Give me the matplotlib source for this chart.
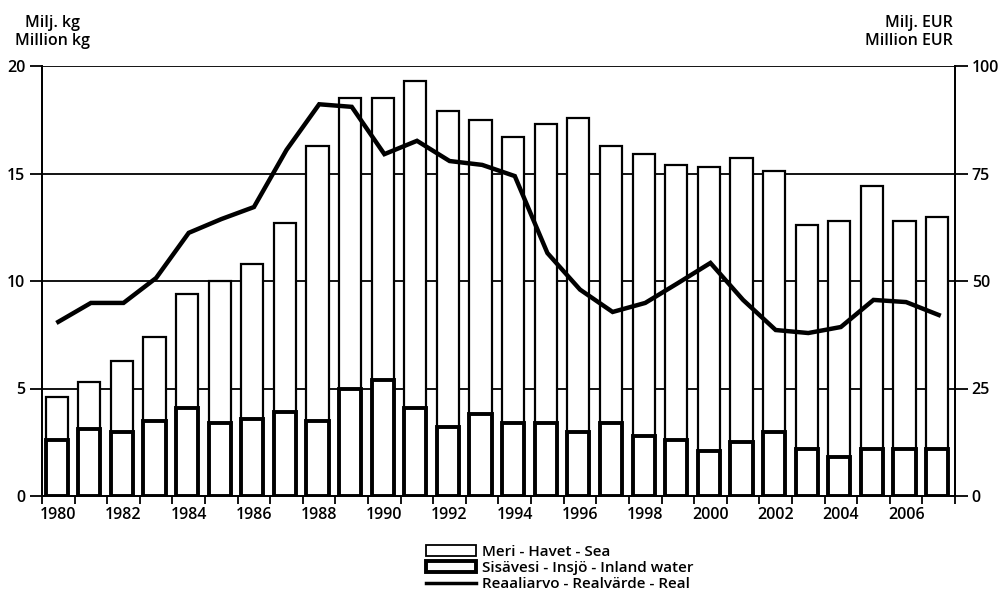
import numpy as np
import matplotlib
matplotlib.use('Agg')
import matplotlib.pyplot as plt
from matplotlib.patches import Patch
from matplotlib.lines import Line2D

plt.rcParams['font.family'] = ['Open Sans', 'DejaVu Sans']

years = list(range(1980, 2008))
# total catch (sea + inland), million kg
total = [4.6, 5.3, 6.3, 7.4, 9.4, 10.0, 10.8, 12.7, 16.3, 18.5, 18.5, 19.3, 17.9, 17.5,
         16.7, 17.3, 17.6, 16.3, 15.9, 15.4, 15.3, 15.7, 15.1, 12.6, 12.8, 14.4, 12.8, 13.0]
# inland water, million kg
inland = [2.6, 3.1, 3.0, 3.5, 4.1, 3.4, 3.6, 3.9, 3.5, 5.0, 5.4, 4.1, 3.2, 3.8,
          3.4, 3.4, 3.0, 3.4, 2.8, 2.6, 2.1, 2.5, 3.0, 2.2, 1.8, 2.2, 2.2, 2.2]
# real value, million EUR
real = [40.5, 44.9, 44.9, 50.7, 61.2, 64.4, 67.2, 80.5, 91.1, 90.5, 79.5, 82.6, 77.9, 77.0,
        74.4, 56.5, 48.0, 42.8, 44.9, 49.5, 54.2, 45.6, 38.6, 37.9, 39.3, 45.6, 45.1, 42.1]

sea = [t - i for t, i in zip(total, inland)]
x = np.arange(len(years))

fig = plt.figure(figsize=(10.04, 6.07), dpi=100)
ax = fig.add_axes([42/1004, 1-496/607, (955-42)/1004, (496-66)/607])
ax2 = ax.twinx()

# gridlines behind bars
for v in [5, 10, 15, 20]:
    ax.axhline(v, color='black', lw=1.3, zorder=0)

w = 0.68
ax.bar(x - 0.05, sea, w, bottom=inland, facecolor='white', edgecolor='black', lw=1.6, zorder=2)
ax.bar(x - 0.05, inland, w, facecolor='white', edgecolor='black', lw=2.8, zorder=3)

ax.set_xlim(-0.5, len(years) - 0.5)
ax.set_ylim(0, 20)
ax.set_yticks([0, 5, 10, 15, 20])
ax.set_xticks(x[::2])
ax.set_xticklabels([str(y) for y in years[::2]])
ax.set_xticks(np.arange(-0.5, len(years), 1), minor=True)
ax.tick_params(axis='x', which='major', length=0, pad=8, labelsize=11.5)
ax.tick_params(axis='x', which='minor', length=6, width=1.3)
ax.tick_params(axis='y', length=9, width=1.3, labelsize=11.5, pad=3)

ax2.set_ylim(0, 100)
ax2.set_yticks([0, 25, 50, 75, 100])
ax2.tick_params(axis='y', length=9, width=1.3, labelsize=11.5, pad=3)
ax2.plot(x, real, color='black', lw=3.2, solid_joinstyle='miter', zorder=5)

for a in (ax, ax2):
    a.spines['top'].set_visible(False)
    a.spines['bottom'].set_linewidth(1.3)
    a.spines['left'].set_linewidth(1.3)
    a.spines['right'].set_linewidth(1.3)
ax.set_zorder(1)
ax.patch.set_visible(False)
ax2.set_zorder(2)
ax2.patch.set_visible(False)

for lab in ax.get_xticklabels() + ax.get_yticklabels() + ax2.get_yticklabels():
    lab.set_fontweight('semibold')

fig.text(53/1004, 1-32/607, 'Milj. kg\nMillion kg', ha='center', va='center',
         fontsize=11.5, fontweight='semibold', linespacing=1.1, multialignment='center')
fig.text(953/1004, 1-32/607, 'Milj. EUR\nMillion EUR', ha='right', va='center',
         fontsize=11.5, fontweight='semibold', linespacing=1.1, multialignment='right')

handles = [Patch(facecolor='white', edgecolor='black', lw=1.3),
           Patch(facecolor='white', edgecolor='black', lw=2.8),
           Line2D([0], [0], color='black', lw=2.5)]
labels = ['Meri - Havet - Sea', 'Sisävesi - Insjö - Inland water', 'Reaaliarvo - Realvärde - Real']
leg = fig.legend(handles, labels, loc='upper left', bbox_to_anchor=(418/1004, 1-537/607),
                 frameon=False, fontsize=11, handlelength=3.3, handleheight=0.7,
                 labelspacing=0.15, handletextpad=0.4, borderpad=0)
for t in leg.get_texts():
    t.set_fontweight('semibold')

fig.savefig('out.png', dpi=100)
